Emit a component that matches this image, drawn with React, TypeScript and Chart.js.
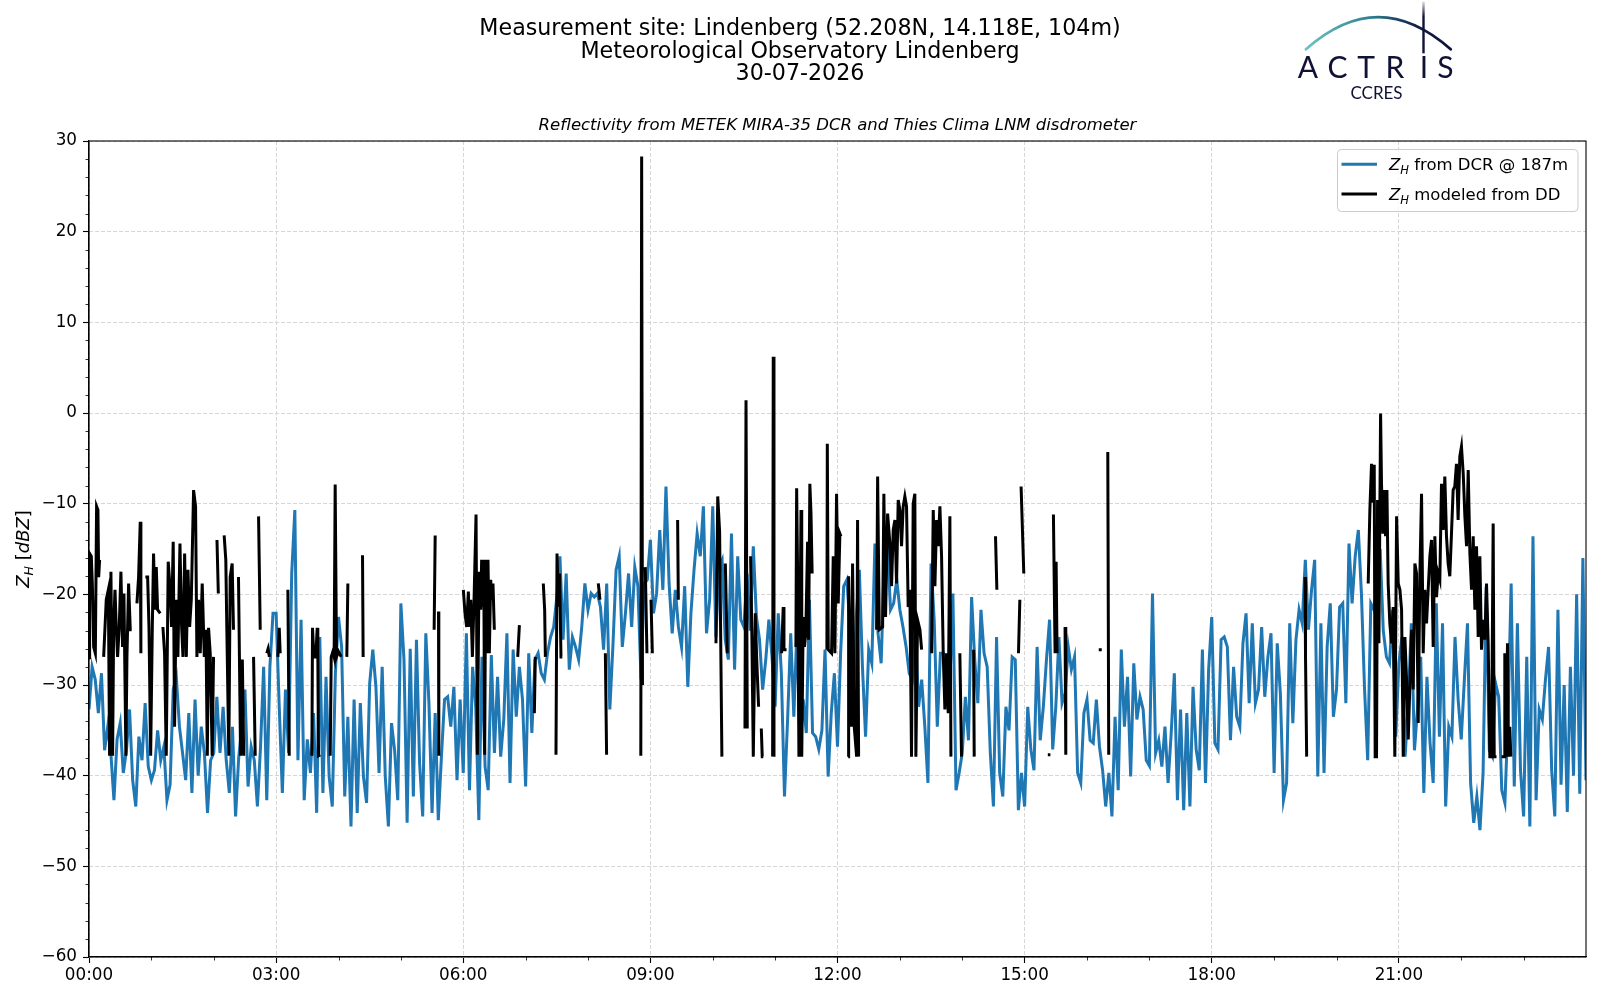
import { useEffect, useRef } from 'react';
import { Chart, registerables } from 'chart.js';

Chart.register(...registerables);

// DCR reflectivity at 187 m, one value every 3 minutes from 00:00 to 24:00 (one row per hour)
const dcrStepMinutes = 3;
const dcrZh = [
  -32.7, -28, -29.4, -33.1, -28.7, -37.2, -34.6, -37.5, -42.7, -36, -34.2, -39.7, -37.2, -32.7, -40.5, -43.4, -35.7, -38.3, -32, -39,
  -40.5, -39.4, -35, -38.3, -36.8, -42.7, -41, -30.5, -29.1, -34.6, -37.5, -40.5, -33.1, -41.9, -31.6, -40, -34.6, -37.5, -44.1, -38.3,
  -37.5, -31.3, -37.5, -32.4, -38.3, -41.9, -34.6, -44.5, -38, -34.6, -30.5, -41.2, -36.8, -38.3, -43.4, -36.8, -28, -42.7, -28, -22.1,
  -22.1, -32.4, -41.9, -30.5, -37.5, -17.7, -10.7, -38.3, -22.8, -42.7, -36, -39.7, -33.1, -44.1, -24.7, -41.9, -29.1, -40.1, -43.4, -28.7,
  -22.5, -25.8, -42.3, -33.5, -45.6, -31.6, -44.1, -32, -40.1, -43, -29.8, -26.1, -30.2, -39.7, -28, -40.1, -45.6, -34.2, -37.2, -42.7,
  -21, -27.2, -45.2, -26, -42.3, -25, -38.6, -44.5, -24.3, -32, -44.1, -33.1, -44.9, -37.9, -31.6, -31.3, -34.6, -30.2, -40.5, -31.6,
  -39.7, -24.3, -41.6, -28, -32.4, -44.9, -26.9, -39, -41.6, -26.7, -37.5, -29.1, -37.9, -33.8, -24.3, -40.8, -26.1, -33.5, -28, -31.6,
  -41.2, -26.5, -35.3, -27.2, -26.5, -28.7, -29.4, -26.5, -24.7, -23.6, -20.3, -15.8, -25, -17.7, -28.3, -24.7, -25.8, -27.2, -23.6, -18.8,
  -21.7, -19.9, -20.3, -19.9, -21.4, -26.1, -18.8, -32.7, -25.6, -17.3, -15.8, -25.8, -22.1, -17.7, -23.6, -17, -19.1, -29.4, -18.8, -18.4,
  -14, -22.1, -19.9, -12.9, -19.5, -8.1, -18.8, -24.3, -19.5, -23.6, -25.8, -19.1, -30.2, -22.1, -17.3, -13.3, -15.8, -10.3, -24.3, -20.6,
  -10.3, -24.7, -17, -16.2, -25, -27.2, -13.3, -28.3, -15.8, -22.8, -23.6, -17.7, -24, -14.7, -22.5, -25, -30.5, -27.2, -22.8, -26.9,
  -32.4, -22.1, -28.7, -42.3, -33.8, -24.3, -33.5, -23.6, -37.1, -31.6, -35.3, -20.6, -35.3, -35.7, -37.1, -35, -26.1, -40.1, -33.1, -28.7,
  -36.8, -26.5, -19.1, -18.4, -23.6, -33.1, -22.5, -17.3, -28, -35.7, -26.1, -27.6, -14.4, -24.3, -27.6, -16.2, -14.4, -21.7, -21, -18.4,
  -21.7, -23.6, -25.8, -28.7, -29.4, -23.6, -32.4, -29.4, -34.6, -40.8, -16.6, -22.8, -34.6, -26.5, -26.5, -28.7, -30.2, -19.9, -41.6, -39.7,
  -37.5, -31.3, -36.1, -20.3, -27.2, -32, -21.7, -26.5, -28, -37.5, -43.4, -24.7, -39.7, -42.3, -32.4, -35, -26.9, -27.2, -43.8, -39.7,
  -43.4, -32.4, -37.1, -39.4, -25.8, -36.1, -32.4, -27.2, -22.8, -37.1, -32.4, -24.7, -32, -30.9, -25.8, -28.3, -26.9, -39.7, -40.8, -33.1,
  -31.6, -36.1, -36.4, -31.6, -36.8, -39.4, -43.4, -39.7, -44.5, -33.5, -41.6, -26.1, -34.6, -29.1, -40.1, -27.6, -33.8, -31.3, -32.7, -38.3,
  -38.9, -19.9, -37.5, -36.1, -39, -34.6, -40.8, -35.3, -28.7, -42.7, -32.7, -43.8, -33.1, -43.4, -30.2, -37.1, -39.4, -26.1, -40.8, -28.3,
  -22.5, -36.4, -37.1, -25, -24.7, -25.8, -36.1, -28, -33.5, -34.6, -25.4, -22.1, -32, -23.2, -32, -30.5, -23.6, -31.3, -26.9, -24.3,
  -39.7, -25.4, -30.9, -42.7, -40.8, -23.2, -34.2, -25, -21.7, -23.2, -16.2, -23.9, -19.5, -16.2, -40.1, -23.2, -39.7, -25.8, -21, -33.5,
  -30.5, -21.4, -21, -32, -14.4, -21, -15.8, -12.9, -20, -30.5, -38.3, -21, -21.7, -18.8, -15, -24, -26.9, -27.6, -21.7, -35.7,
  -27.6, -24.7, -37.9, -32, -23.2, -37.2, -32.5, -26.9, -41.9, -29.1, -36.4, -40.8, -21, -35.7, -23.2, -43.4, -34.6, -35.7, -24.7, -31.6,
  -36, -29.4, -23.2, -40.8, -45.2, -42.3, -46, -39.7, -19.2, -37.2, -37.9, -29.8, -31.3, -41.6, -43, -33.5, -18.8, -41.2, -23.2, -39.4,
  -44.5, -26.9, -45.6, -13.6, -42.7, -32.7, -33.8, -29.4, -25.8, -39.4, -44.5, -21.7, -41, -30, -44, -28, -40, -20, -42, -16,
  -40.5,
];

// Reflectivity modeled from the disdrometer: minute of the day and value.
// A null in both arrays breaks the line (no precipitation).
const ddMinutes = [
  0, 0.6, 2.2, 3.2, 4.5, 6.1, 7.3, 8.6, 9.3, 10.2, null,
  14.1, 16.6, 18.6, 19.8, 21.1, 22.7, 23.7, 25, 26.2, 27.5, 29.1, 30.7, 32.3, 33.6, 35.5, 36.5, 38.1, 39.7, 41, null,
  46.1, 47.7, 49.3, 49.9, null,
  54.2, 56.4, 57.7, 59.3, 60.9, 62.1, 63.4, 64.7, 66, 68.5, null,
  71.1, 72.7, 74.3, 76.2, 78.1, 79.4, 81, 82.3, 83.9, 85.5, 87.5, 89.1, 90.4, 92, 93.6, 95.2,
  96.8, 98.4, 100.6, 102.5, 103.8, 105.4, 107, 108.9, 110.9, 112.5, 113.8, 115, 116.6, 118.5, 119.8, null,
  123.1, 124.4, null,
  130, 131.6, 132.6, 134.5, 135.8, 137.7, 139, null,
  143.8, 145.8, 147.5, 148.8, null,
  158.3, 159.9, null,
  163.1, 164.7, null,
  171, 172.3, 173.5, null,
  181.7, 183, 183.9, null,
  191.3, 192.6, null,
  214.4, 215, 216.3, 218.2, 219.5, 220.1, 220.8, 222.5, null,
  232, 233, 234.6, 235.8, 236.8, 238.1, 240, 242.6, null,
  248, 249, null,
  263.1, 263.7, null,
  332, 333, null,
  336.2, 336.5, null,
  360.1, 361.7, 363.3, 364.9, 365.9, 367.2, 368.8, 370.4, 372.3, 373.6, 375.2, 376.8,
  377.7, 378.7, 379.7, 380.6, 381.6, 382.6, 383.8, 385.1, 386.4, 387.4, 388.6, 389.9, null,
  412.4, 414, null,
  428.4, 429.3, null,
  437, 438.3, 439, null,
  449.2, 450.2, 451.5, 452.7, 454, 455.3, null,
  489.9, 491.5, null,
  496.7, 497.9, null,
  530.8, 531.6, 532.4, null,
  535.1, 536.7, null,
  540.6, 541.9, null,
  566.2, 566.9, null,
  603.1, 604.8, 606.6, 608.8, null,
  612.1, 614, null,
  631, 632, 633.2, null,
  636.4, 637.7, 639, 640.9, 642.2, 644.1, null,
  646.7, 647.6, 648.6, null,
  657.6, 658.2, 658.9, null,
  666.2, 667.8, 668.5, 671, null,
  680, 680.7, 681.8, 682.9, 684.9, 685.6, 687, 688.2, 689.5, 691.2, 692.2, 693.4, 694.5, 695.6, null,
  709.8, 710.2, 711.1, 714.3, 715.9, 717.5, 719.1, 720.7, 722.3, 723.3, null,
  730.3, 730.7, 733.6, 734.5, 736.1, 738.4, 739.3, 740.3, null,
  757.6, 758.6, 760.2, 763.4, 764.6, 766.2, 768.2, 770.4, 772, 773.6, 775.2, 776.8, 778.4, 780,
  781.6, 783.2, 784.8, 786.4, 788, 789.6, 791.2, 792.8, 794.4, 795.4, 797, 799.3, 800.9, null,
  810.5, 812.1, 813.7, 815.3, 816.9, 818.5, 820.1, 821.7, 823.3, 824.9, 826.5, 828.1, 829.1, null,
  837.7, 839.3, null,
  850.9, 851.5, null,
  872, 873.3, null,
  894.1, 895.4, null,
  896.6, 899.2, null,
  922.3, 924.8, null,
  927.7, 929.3, 930.3, 931.2, null,
  938.9, 939.6, null,
  971.3, 974.2, null,
  980, 980.9, null,
  1169.7, 1170.2, 1171.3, null,
  1230.5, 1232.1, 1233.7, 1235.3, 1236.3, 1237.2, 1238.5, 1239.5, 1240.8, 1242.4, 1243.3, 1244.6,
  1245.9, 1247.2, 1248.5, 1249.7, 1251.3, 1252.9, 1254.5, 1256.1, 1257.8, 1259.4, 1261, 1262.6,
  1264.2, 1265.8, 1267.4, 1269, 1272.2, 1273.8, 1275.4, 1277, 1278.6, 1280.2, 1281.8, 1283.4,
  1285, 1286.6, 1288.2, 1289.8, 1291.4, 1293, 1294.6, 1296.2, 1297.8, 1299.4, 1301, 1302.6,
  1304.2, 1305.8, 1307.4, 1309, 1310.6, 1312.2, 1313.8, 1315.4, 1317, 1318.6, 1320.2, 1321.9,
  1323.5, 1325.1, 1326.7, 1328.3, 1329.9, 1331.5, 1333.1, 1334.7, 1336.3, 1337.9, 1339.5, 1341.1,
  1342.7, 1344.3, 1345.9, 1347.5, 1349.1, 1350.7, 1351.7, 1353.9, null,
  1358.7, 1361.3, 1361.9, 1362.9, 1364.5, 1365.4, 1366.7, 1367.7,
];
const ddZh = [
  -27, -15.5, -15.8, -18.8, -25.8, -26.5, -10.3, -10.7, -18.1, -16.2, null,
  -26.9, -20.6, -19.5, -37.8, -17.5, -37.8, -23.6, -19.5, -23.6, -26.9, -23.6, -17.5, -25.8, -19.9, -37.8, -26.9, -18.8, -23.9, -23.9, null,
  -21, -18.1, -12, -26.5, null,
  -18.1, -18.1, -23.6, -37.8, -23.6, -15.5, -21.7, -17, -21.7, -22.1, null,
  -23.6, -26.5, -37.8, -16.4, -19.5, -23.6, -14.2, -34.6, -20.6, -26.9, -14.4, -23.6, -26.9, -15.5, -26.9, -17.3,
  -23.6, -20.6, -8.5, -10.3, -26.9, -20.6, -26.5, -18.8, -26.9, -23.9, -37.8, -23.7, -26.5, -37.8, -26.9, null,
  -14, -19.9, null,
  -13.5, -16.2, -23.9, -37.8, -18.1, -16.6, -23.9, null,
  -18.1, -37.8, -27.2, -37.8, null,
  -26.9, -37.8, null,
  -11.4, -23.9, null,
  -26.5, -26, -26.9, null,
  -26.9, -23.7, -26.5, null,
  -19.5, -37.8, null,
  -37.8, -23.7, -26.9, -26.9, -23.7, -26.5, -37.8, -37.7, null,
  -37.8, -26.9, -26.3, -26.9, -7.9, -26.9, -26.3, -26.9, null,
  -26.9, -18.8, null,
  -15.7, -26.9, null,
  -23.9, -13.5, null,
  -21.9, -37.8, null,
  -19.5, -22.1, -23.6, -19.7, -23.6, -20.6, -26.9, -20.6, -11.2, -37.7, -17.5, -21.7,
  -16.2, -21.4, -16.2, -37.7, -16.2, -26.5, -16.2, -26.5, -18.4, -20.6, -18.8, -23.9, null,
  -26.9, -23.4, null,
  -33.1, -26.9, null,
  -18.8, -21.7, -26.9, null,
  -37.7, -15.5, -21.4, -17.7, -26.9, -26.9, null,
  -18.8, -20.6, null,
  -26.5, -37.7, null,
  -37.8, 28.3, -30, null,
  -17, -26.5, null,
  -20.6, -26.5, null,
  -11.8, -20.6, null,
  -25.4, -9.2, -13.1, -37.9, null,
  -16.6, -26.5, null,
  -34.8, 1.4, -34.8, null,
  -15.8, -25, -37.9, -22.1, -26.9, -32.4, null,
  -34.8, -37.9, -37.9, null,
  -37.9, 6.2, -37.9, null,
  -26.5, -21.4, -26.1, -26.1, null,
  -25.8, -8.3, -19.5, -37.9, -10.7, -37.9, -22.5, -25.8, -24.3, -14.2, -25, -7.8, -11.1, -17.7, null,
  -26.1, -3.4, -26.1, -26.5, -15.8, -26.5, -8.9, -21, -13.3, -13.6, null,
  -37.9, -18, -34.6, -16.6, -34.6, -37.9, -11.8, -37.9, null,
  -23.9, -7, -23.9, -23.6, -8.9, -22.5, -11.1, -14.4, -19.1, -12.9, -11.8, -18.8, -9.6, -10.7,
  -14.7, -10.3, -9.2, -10.3, -21.4, -19.5, -37.9, -10, -8.9, -37.9, -22.8, -23.9, -26.1, null,
  -26.5, -10.7, -19.1, -11.8, -14.7, -10.3, -15.8, -26.5, -32.7, -26.5, -33.1, -11.4, -37.9, null,
  -26.5, -37.9, null,
  -26.1, -37.9, null,
  -13.6, -19.5, null,
  -26.5, -20.6, null,
  -8.1, -17.7, null,
  -37.7, -37.7, null,
  -11.2, -26.5, -16.4, -26.5, null,
  -23.6, -37.7, null,
  -26.1, -26.1, null,
  -4.3, -37.7, null,
  -18.1, -26.9, -37.9, null,
  -18.8, -10.7, -5.6, -9.9, -5.7, -37.9, -37.9, -9.6, -25.4, -0.05, -7.8, -13.3,
  -8.5, -13.6, -8.5, -18.8, -23.2, -25.4, -21.4, -37.9, -11.4, -18.8, -19.5, -21.7,
  -37.9, -24.7, -29.4, -36, -23.9, -30.5, -16.6, -17.7, -34.2, -18, -8.9, -26.5,
  -19.5, -23.2, -19.5, -15.8, -14, -25.8, -13.6, -20.3, -17.7, -18.4, -7.8, -12.9,
  -7, -13.6, -16.6, -18, -13.3, -8.5, -8.1, -5.6, -11.8, -4.8, -3.7, -6.7,
  -11.4, -14.7, -6.3, -15.5, -19.5, -13.6, -21.7, -14.7, -24.7, -15.8, -26.1, -22.8,
  -25, -18.8, -25.4, -37.9, -37.9, -12.2, -37.9, -37.9, null,
  -37.9, -37.9, -26.5, -37.9, -25.4, -37.9, -34.6, -37.9,
];

const xTickHours = [0, 3, 6, 9, 12, 15, 18, 21];
const yTickValues = [-60, -50, -40, -30, -20, -10, 0, 10, 20, 30];
const xMinorStepHours = 1;
const yMinorStepDbz = 2;

const titleLines = [
  'Measurement site: Lindenberg (52.208N, 14.118E, 104m)',
  'Meteorological Observatory Lindenberg',
  '30-07-2026',
];
const subTitle = 'Reflectivity from METEK MIRA-35 DCR and Thies Clima LNM disdrometer';

const dcrColor = '#1f77b4';
const ddColor = '#000000';
const font = '"DejaVu Sans"';
const tickSize = 16.8;
const textSize = 16.5;
const seriesWidth = 3;

type Part = { t: string; italic?: boolean; sub?: boolean };

const legendEntries: { parts: Part[]; color: string }[] = [
  { parts: [{ t: 'Z', italic: true }, { t: 'H', italic: true, sub: true }, { t: ' from DCR @ 187m' }], color: dcrColor },
  { parts: [{ t: 'Z', italic: true }, { t: 'H', italic: true, sub: true }, { t: ' modeled from DD' }], color: ddColor },
];
const yLabelParts: Part[] = [
  { t: 'Z', italic: true }, { t: 'H', italic: true, sub: true }, { t: ' [' }, { t: 'dBZ', italic: true }, { t: ']' },
];

function partFont(p: Part, size: number) {
  return `${p.italic ? 'italic ' : ''}${p.sub ? size * 0.7 : size}px ${font}`;
}

function richWidth(ctx: CanvasRenderingContext2D, parts: Part[], size: number) {
  let w = 0;
  for (const p of parts) {
    ctx.font = partFont(p, size);
    w += ctx.measureText(p.t).width;
  }
  return w;
}

function drawRich(ctx: CanvasRenderingContext2D, parts: Part[], x: number, y: number, size: number) {
  let cx = x;
  for (const p of parts) {
    ctx.font = partFont(p, size);
    ctx.fillText(p.t, cx, y + (p.sub ? size * 0.22 : 0));
    cx += ctx.measureText(p.t).width;
  }
}

const pad2 = (n: number) => (n < 10 ? '0' : '') + n;

const decorPlugin = {
  id: 'decor',
  beforeDraw(chart: Chart) {
    const { ctx } = chart;
    ctx.save();
    ctx.fillStyle = '#ffffff';
    ctx.fillRect(0, 0, chart.width, chart.height);
    ctx.restore();
  },
  afterDraw(chart: Chart) {
    const { ctx, chartArea } = chart;
    const xs = chart.scales.x;
    const ys = chart.scales.y;
    ctx.save();

    // spines
    ctx.strokeStyle = '#000';
    ctx.lineWidth = 1.1;
    ctx.strokeRect(chartArea.left, chartArea.top, chartArea.right - chartArea.left, chartArea.bottom - chartArea.top);

    // minor ticks
    ctx.lineWidth = 0.8;
    ctx.beginPath();
    for (let h = xs.min; h <= xs.max; h += xMinorStepHours) {
      if (xTickHours.includes(h) || h === xs.max) continue;
      const px = Math.round(xs.getPixelForValue(h)) + 0.5;
      ctx.moveTo(px, chartArea.bottom);
      ctx.lineTo(px, chartArea.bottom + 3.5);
    }
    for (let v = ys.min; v <= ys.max; v += yMinorStepDbz) {
      if (yTickValues.includes(v)) continue;
      const py = Math.round(ys.getPixelForValue(v)) + 0.5;
      ctx.moveTo(chartArea.left - 3.5, py);
      ctx.lineTo(chartArea.left, py);
    }
    ctx.stroke();

    // titles
    ctx.fillStyle = '#000';
    ctx.textAlign = 'center';
    ctx.textBaseline = 'middle';
    ctx.font = `22.2px ${font}`;
    titleLines.forEach((line, i) => ctx.fillText(line, 800, 29.6 + i * 22.5));
    ctx.font = `italic ${textSize}px ${font}`;
    ctx.fillText(subTitle, (chartArea.left + chartArea.right) / 2, 125.6);

    // y axis label
    const ySize = 18;
    ctx.textAlign = 'left';
    ctx.textBaseline = 'alphabetic';
    ctx.save();
    ctx.translate(29, (chartArea.top + chartArea.bottom) / 2);
    ctx.rotate(-Math.PI / 2);
    const yw = richWidth(ctx, yLabelParts, ySize);
    drawRich(ctx, yLabelParts, -yw / 2, 0, ySize);
    ctx.restore();

    // legend
    const lx = 1337.5, ly = 149.5, lw = 240.5, lh = 62;
    ctx.beginPath();
    ctx.roundRect(lx, ly, lw, lh, 4);
    ctx.fillStyle = 'rgba(255,255,255,0.8)';
    ctx.fill();
    ctx.strokeStyle = '#cccccc';
    ctx.lineWidth = 1;
    ctx.stroke();
    legendEntries.forEach((e, i) => {
      const yy = 164.3 + i * 29.7;
      ctx.strokeStyle = e.color;
      ctx.lineWidth = seriesWidth;
      ctx.beginPath();
      ctx.moveTo(1341.5, yy);
      ctx.lineTo(1377, yy);
      ctx.stroke();
      ctx.fillStyle = '#000';
      drawRich(ctx, e.parts, 1389, yy + 6, textSize);
    });

    // ACTRIS / CCRES logo
    const navy = '#0f1135';
    const arcGrad = ctx.createLinearGradient(1306, 0, 1451, 0);
    arcGrad.addColorStop(0, '#6cc4bf');
    arcGrad.addColorStop(0.45, '#2d7f8f');
    arcGrad.addColorStop(0.75, '#14204a');
    arcGrad.addColorStop(1, navy);
    ctx.strokeStyle = arcGrad;
    ctx.lineWidth = 2.8;
    ctx.lineCap = 'round';
    ctx.beginPath();
    ctx.moveTo(1306, 49.3);
    ctx.quadraticCurveTo(1378, -15, 1450.7, 49.3);
    ctx.stroke();
    const barGrad = ctx.createLinearGradient(0, 1, 0, 53);
    barGrad.addColorStop(0, 'rgba(15,17,53,0.1)');
    barGrad.addColorStop(0.3, navy);
    barGrad.addColorStop(1, navy);
    ctx.strokeStyle = barGrad;
    ctx.lineWidth = 2.4;
    ctx.lineCap = 'butt';
    ctx.beginPath();
    ctx.moveTo(1423.5, 1.5);
    ctx.lineTo(1423.5, 53.3);
    ctx.stroke();
    ctx.fillStyle = navy;
    ctx.textAlign = 'center';
    ctx.font = '30px Lato';
    const letters = ['A', 'C', 'T', 'R', 'I', 'S'];
    const letterX = [1308, 1337.5, 1366, 1395, 1424, 1445.5];
    letters.forEach((c, i) => ctx.fillText(c, letterX[i], 77.5));
    ctx.font = '17px Lato';
    ctx.fillText('CCRES', 1376.5, 98.9);

    ctx.restore();
  },
};

export default function App() {
  const canvasRef = useRef<HTMLCanvasElement>(null);

  useEffect(() => {
    if (!canvasRef.current) return;

    const dcrData = dcrZh.map((v, i) => ({ x: (i * dcrStepMinutes) / 60, y: v }));
    const ddData: { x: number; y: number | null }[] = [];
    ddMinutes.forEach((m, i) => {
      const prev = ddData.length ? ddData[ddData.length - 1].x : 0;
      ddData.push({ x: m === null ? prev : m / 60, y: ddZh[i] });
    });

    const chart = new Chart(canvasRef.current, {
      type: 'line',
      data: {
        datasets: [
          {
            label: 'ZH modeled from DD',
            data: ddData,
            borderColor: ddColor,
            borderWidth: seriesWidth,
            pointRadius: 0,
            spanGaps: false,
            tension: 0,
            order: 0,
          },
          {
            label: 'ZH from DCR @ 187m',
            data: dcrData,
            borderColor: dcrColor,
            borderWidth: seriesWidth,
            pointRadius: 0,
            tension: 0,
            order: 1,
          },
        ],
      },
      options: {
        responsive: false,
        animation: false,
        devicePixelRatio: 1,
        layout: { padding: { left: 0, right: 14, top: 141, bottom: 0 } },
        plugins: {
          legend: { display: false },
          title: { display: false },
          tooltip: { enabled: false },
        },
        scales: {
          x: {
            type: 'linear',
            min: 0,
            max: 24,
            afterBuildTicks: (s: any) => {
              s.ticks = xTickHours.map((v) => ({ value: v }));
            },
            afterFit: (s: any) => {
              s.height = 43;
            },
            ticks: {
              autoSkip: false,
              maxRotation: 0,
              padding: 3,
              color: '#000',
              font: { family: 'DejaVu Sans', size: tickSize },
              callback: (v: any) => pad2(Number(v)) + ':00',
            },
            grid: { color: '#d6d6d6', lineWidth: 1, tickLength: 6, tickColor: '#000', tickWidth: 1.1 },
            border: { display: true, color: '#000', width: 1.1, dash: [4, 2] },
          },
          y: {
            type: 'linear',
            min: -60,
            max: 30,
            afterBuildTicks: (s: any) => {
              s.ticks = yTickValues.map((v) => ({ value: v }));
            },
            afterFit: (s: any) => {
              s.width = 89;
            },
            ticks: {
              padding: 6,
              color: '#000',
              font: { family: 'DejaVu Sans', size: tickSize },
              callback: (v: any) => (Number(v) < 0 ? '\u2212' + Math.abs(Number(v)) : String(v)),
            },
            grid: { color: '#d6d6d6', lineWidth: 1, tickLength: 6, tickColor: '#000', tickWidth: 1.1 },
            border: { display: true, color: '#000', width: 1.1, dash: [4, 2] },
          },
        },
      },
      plugins: [decorPlugin],
    });

    return () => chart.destroy();
  }, []);

  return (
    <div style={{ position: 'absolute', left: 0, top: 0, width: 1600, height: 1000, background: '#fff' }}>
      <canvas ref={canvasRef} width={1600} height={1000} style={{ width: 1600, height: 1000 }} />
    </div>
  );
}
